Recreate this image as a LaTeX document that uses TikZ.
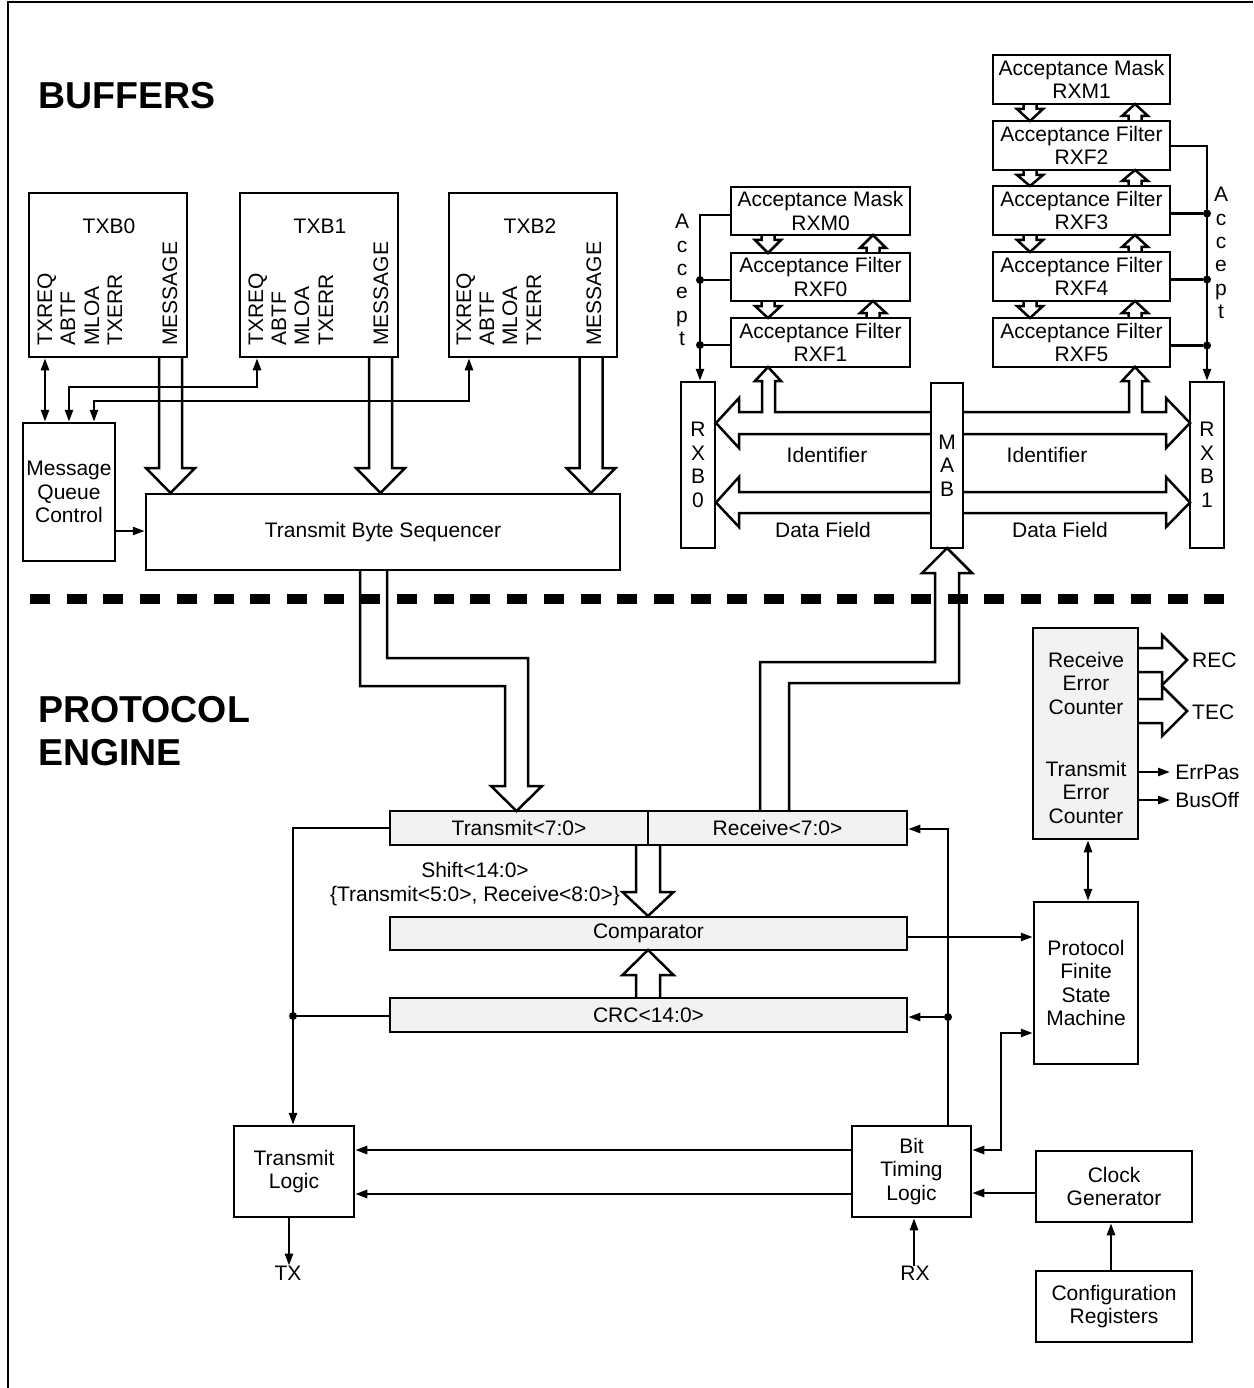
\documentclass[tikz,border=0pt]{standalone}
\usepackage{fontspec}
\setmainfont{Liberation Sans}
\usetikzlibrary{arrows.meta,calc}
\newcommand\mybox[7]{\node[#6, minimum width={#4-#2}, minimum height={#5-#3}] (#1) at ({(#2+#4)/2},{(#3+#5)/2}) {#7};}
% vertical hollow bus arrow: xc, yfrom, ybase, ytip, shaft half width, head half width
\newcommand\vbus[6]{\draw[bus] ({#1-#5},#2) -- ({#1-#5},#3) -- ({#1-#6},#3) -- (#1,#4) -- ({#1+#6},#3) -- ({#1+#5},#3) -- ({#1+#5},#2);}
% horizontal hollow bus arrow: yc, xfrom, xbase, xtip, shaft half width, head half width
\newcommand\hbus[6]{\draw[bus] (#2,{#1-#5}) -- (#3,{#1-#5}) -- (#3,{#1-#6}) -- (#4,#1) -- (#3,{#1+#6}) -- (#3,{#1+#5}) -- (#2,{#1+#5});}
\begin{document}
\begin{tikzpicture}[x=1pt,y=-1pt,
  every node/.style={font=\fontsize{21}{23.5}\selectfont, inner sep=0pt},
  bx/.style={draw, line width=2.5pt, align=center},
  gbx/.style={bx, fill=gray!10},
  ln/.style={line width=2.5pt},
  arr/.style={ln, -{Triangle[length=12pt,width=8pt]}},
  darr/.style={ln, {Triangle[length=12pt,width=8pt]}-{Triangle[length=12pt,width=8pt]}},
  bus/.style={line width=2.5pt, line join=miter},
  rot/.style={rotate=90, anchor=base west},
  hd/.style={font=\fontsize{37.5}{43}\selectfont\bfseries, anchor=base west},
  lbl/.style={align=center},
  dot/.style={circle, fill=black, minimum size=8pt, inner sep=0pt}]
\useasboundingbox (0,0) rectangle (1253,1388);
% frame
\draw[line width=2.5pt] (8,1388) -- (8,2) -- (1253,2);
% headings
\node[hd] (hbuf) at (38,109) {BUFFERS};
\node[hd] (hprot) at (38,722) {PROTOCOL};
\node[hd] (heng) at (38,765) {ENGINE};
% separator
\draw[line width=10pt, dash pattern=on 20pt off 16.7pt] (30,599) -- (1224,599);

% ---------- transmit buffers
\mybox{txb0}{29}{193}{187}{357}{bx}{}
\mybox{txb1}{240}{193}{398}{357}{bx}{}
\mybox{txb2}{449}{193}{617}{357}{bx}{}
\node (l0) at (109,226) {TXB0};
\node (l1) at (320,226) {TXB1};
\node (l2) at (530,226) {TXB2};
\foreach \x/\t [count=\i] in {52/TXREQ,75/ABTF,99/MLOA,122/TXERR,177/MESSAGE}
  \node[rot] (a\i) at (\x,346) {\t};
\foreach \x/\t [count=\i] in {263/TXREQ,286/ABTF,309/MLOA,333/TXERR,388/MESSAGE}
  \node[rot] (b\i) at (\x,346) {\t};
\foreach \x/\t [count=\i] in {471/TXREQ,494/ABTF,517/MLOA,541/TXERR,601/MESSAGE}
  \node[rot] (c\i) at (\x,346) {\t};

\mybox{mqc}{23}{423}{115}{561}{bx}{\fontsize{21}{25}\selectfont Message\\Queue\\Control}
\mybox{tbs}{146}{494}{620}{570}{bx}{Transmit Byte Sequencer}

\draw[darr] (txb0.south -| 45,0) -- (mqc.north -| 45,0);
\draw[darr] (mqc.north -| 69,0) -- (69,387) -- (257,387) -- (txb1.south -| 257,0);
\draw[darr] (mqc.north -| 94,0) -- (94,401) -- (469,401) -- (txb2.south -| 469,0);
\draw[arr] (mqc.east |- 0,531) -- (tbs.west |- 0,531);

\vbus{170.5}{357}{468}{493}{11.5}{24.5}
\vbus{380.5}{357}{468}{493}{11.5}{24.5}
\vbus{591}{357}{468}{493}{11.5}{24.5}

% ---------- receive buffers
\mybox{rxm0}{731}{187}{910}{235}{bx}{Acceptance Mask\\RXM0}
\mybox{rxf0}{731}{253}{910}{301}{bx}{Acceptance Filter\\RXF0}
\mybox{rxf1}{731}{318}{910}{367}{bx}{Acceptance Filter\\RXF1}
\mybox{rxm1}{993}{55}{1170}{104}{bx}{Acceptance Mask\\RXM1}
\mybox{rxf2}{993}{121}{1170}{170}{bx}{Acceptance Filter\\RXF2}
\mybox{rxf3}{993}{186}{1170}{235}{bx}{Acceptance Filter\\RXF3}
\mybox{rxf4}{993}{252}{1170}{301}{bx}{Acceptance Filter\\RXF4}
\mybox{rxf5}{993}{318}{1170}{367}{bx}{Acceptance Filter\\RXF5}
\mybox{rxb0}{681}{382}{715}{548}{bx}{R\\X\\B\\0}
\mybox{mab}{931}{383}{963}{548}{bx}{M\\A\\B}
\mybox{rxb1}{1190}{382}{1224}{548}{bx}{R\\X\\B\\1}

% small arrows between mask/filters
\vbus{768}{235}{240}{253}{6.5}{13}
\vbus{873}{253}{248}{235}{6.5}{13}
\vbus{768}{301}{306}{318}{6.5}{13}
\vbus{873}{318}{313}{301}{6.5}{13}
\foreach \a/\b in {104/121,170/186,235/252,301/318}{
  \vbus{1030}{\a}{\a+5}{\b}{6.5}{13}
  \vbus{1135}{\b}{\b-5}{\a}{6.5}{13}
}

% accept lines
\draw[arr] (rxm0.west |- 0,215) -- (700,215) -- (rxb0.north -| 700,0);
\node[dot] (d1) at (700,280) {};
\node[dot] (d2) at (700,345) {};
\draw[ln] (d1) -- (rxf0.west |- d1);
\draw[ln] (d2) -- (rxf1.west |- d2);
\node[lbl, font=\fontsize{21}{23.4}\selectfont] (acc0) at (682,280) {A\\c\\c\\e\\p\\t};
\draw[arr] (rxf2.east |- 0,146) -- (1207,146) -- (rxb1.north -| 1207,0);
\node[dot] (d3) at (1207,213.5) {};
\node[dot] (d4) at (1207,279.5) {};
\node[dot] (d5) at (1207,345.5) {};
\draw[ln] (d3) -- (rxf3.east |- d3);
\draw[ln] (d4) -- (rxf4.east |- d4);
\draw[ln] (d5) -- (rxf5.east |- d5);
\node[lbl, font=\fontsize{21}{23.4}\selectfont] (acc1) at (1221,253) {A\\c\\c\\e\\p\\t};

% big buses MAB -> RXB
\draw[bus] (931,412) -- (775,412) -- (775,381) -- (781,381) -- (768,367) -- (755,381) -- (762,381) -- (762,412) -- (739,412) -- (739,398) -- (716,423) -- (739,448) -- (739,434) -- (931,434);
\draw[bus] (931,492) -- (739,492) -- (739,477) -- (716,502.5) -- (739,527) -- (739,513) -- (931,513);
\draw[bus] (963,412) -- (1129,412) -- (1129,381) -- (1122,381) -- (1135,367) -- (1148,381) -- (1142,381) -- (1142,412) -- (1166,412) -- (1166,398) -- (1190,423) -- (1166,448) -- (1166,434) -- (963,434);
\draw[bus] (963,492) -- (1166,492) -- (1166,477) -- (1190,502.5) -- (1166,527) -- (1166,513) -- (963,513);
\node (id0) at (827,455) {Identifier};
\node (id1) at (1047,455) {Identifier};
\node (df0) at (823,530) {Data Field};
\node (df1) at (1060,530) {Data Field};

% ---------- protocol engine
\mybox{tx}{390}{811}{648}{845}{gbx}{Transmit<7:0>}
\mybox{rx}{648}{811}{907}{845}{gbx}{Receive<7:0>}
\mybox{cmp}{390}{917}{907}{950}{gbx}{Comparator}
\mybox{crc}{390}{998}{907}{1032}{gbx}{CRC<14:0>}
\mybox{cnt}{1033}{628}{1138}{839}{gbx}{}
\node[lbl] (cnt1) at (1086,683) {Receive\\Error\\Counter};
\node[lbl] (cnt2) at (1086,792) {Transmit\\Error\\Counter};
\mybox{pfsm}{1034}{902}{1138}{1064}{bx}{Protocol\\Finite\\State\\Machine}
\mybox{tl}{234}{1126}{354}{1217}{bx}{\fontsize{21}{26}\selectfont Transmit\\Logic}
\mybox{btl}{852}{1126}{971}{1217}{bx}{Bit\\Timing\\Logic}
\mybox{cg}{1036}{1151}{1192}{1222}{bx}{Clock\\Generator}
\mybox{cr}{1036}{1271}{1192}{1342}{bx}{Configuration\\Registers}

% transmit bus from sequencer
\draw[bus] (360,570) -- (360,686) -- (505,686) -- (505,786) -- (491,786) -- (516.5,811) -- (542,786) -- (528,786) -- (528,658) -- (387,658) -- (387,570);
% receive bus to MAB
\draw[bus] (760,811) -- (760,662) -- (935,662) -- (935,573) -- (922,573) -- (947,548) -- (972,573) -- (959,573) -- (959,683) -- (789,683) -- (789,811);
% shift and crc buses
\vbus{648}{845}{892}{916}{12}{25.5}
\vbus{648}{998}{975}{950}{12}{25.5}
\node[lbl] (shl) at (475,884) {Shift<14:0>\\\{Transmit<5:0>, Receive<8:0>\}};

% REC / TEC
\hbus{660}{1138}{1162}{1187}{12}{25}
\hbus{711}{1138}{1162}{1187}{12}{25}
\node[anchor=west] (rec) at (1192,660) {REC};
\node[anchor=west] (tec) at (1192,712) {TEC};
\draw[arr] (cnt.east |- 0,772) -- (1170,772) node[anchor=west, xshift=4pt] (errpas) {ErrPas};
\draw[arr] (cnt.east |- 0,800) -- (1170,800) node[anchor=west, xshift=4pt] (busoff) {BusOff};
\draw[darr] (cnt.south -| 1088,0) -- (pfsm.north -| 1088,0);

% left side
\draw[arr] (tx.west |- 0,828) -- (293,828) -- (tl.north -| 293,0);
\node[dot] (d6) at (293,1016) {};
\draw[ln] (crc.west |- d6) -- (d6);
% right side
\draw[arr] (btl.north -| 948,0) -- (948,829) -- (rx.east |- 0,829);
\node[dot] (d7) at (948,1017) {};
\draw[arr] (d7) -- (crc.east |- d7);
\draw[arr] (cmp.east |- 0,937) -- (pfsm.west |- 0,937);
\draw[darr] (pfsm.west |- 0,1033) -- (1001,1033) -- (1001,1150) -- (btl.east |- 0,1150);
\draw[arr] (cg.west |- 0,1193) -- (btl.east |- 0,1193);
\draw[arr] (cr.north -| 1111,0) -- (cg.south -| 1111,0);
\draw[arr] (btl.west |- 0,1150) -- (tl.east |- 0,1150);
\draw[arr] (btl.west |- 0,1194) -- (tl.east |- 0,1194);
\node (txl) at (288,1273) {TX};
\node (rxl) at (915,1273) {RX};
\draw[arr] (tl.south -| 289,0) -- (txl.north -| 289,0);
\draw[arr] (rxl.north -| 914,0) -- (btl.south -| 914,0);
\end{tikzpicture}
\end{document}
